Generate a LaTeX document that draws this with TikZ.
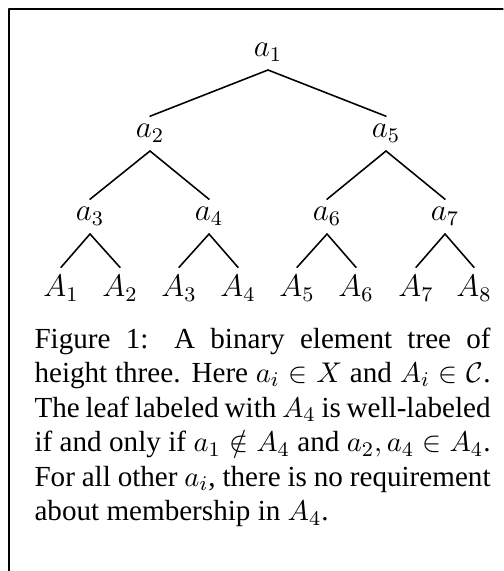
\documentclass[tikz,border=0pt]{standalone}
\usepackage[no-math]{fontspec}
\setmainfont{Liberation Serif}
\usepackage{amssymb,amsmath}

\begin{document}
\begin{tikzpicture}[line cap=round,line join=round,x=0.3846pt,y=-0.3846pt,
  elt/.style={font=\large,inner sep=3pt,anchor=base},
  edge/.style={line width=0.6pt}]
\useasboundingbox (0,0) rectangle (503,571);
\draw[line width=0.4pt] (9,571) -- (9,9) -- (503,9);
% elements
\node[elt] (a1) at (268,57) {$a_1$};
\node[elt] (a2) at (150,138) {$a_2$};
\node[elt] (a5) at (386,138) {$a_5$};
\node[elt] (a3) at (90,221) {$a_3$};
\node[elt] (a4) at (209,221) {$a_4$};
\node[elt] (a6) at (327,221) {$a_6$};
\node[elt] (a7) at (445,221) {$a_7$};
% leaves
\foreach \i/\x in {1/61,2/120,3/179,4/238,5/297,6/356,7/416,8/474}
\node[elt] (A\i) at (\x,297) {$A_{\i}$};
\foreach \p/\c in {a1/a2,a1/a5,a2/a3,a2/a4,a5/a6,a5/a7,a3/A1,a3/A2,a4/A3,a4/A4,a6/A5,a6/A6,a7/A7,a7/A8}
\draw[edge] (\p.south) -- (\c.north);
\node[anchor=north west,inner sep=0pt,text width=175.4pt,align=justify,font=\fontsize{11.2}{13.3}\selectfont] (cap) at (34,327)
{Figure 1: A binary element tree of\linebreak height three. Here $a_i \in X$ and $A_i \in \mathcal{C}$.\linebreak The leaf labeled with $A_4$ is well-labeled\linebreak if and only if $a_1 \notin A_4$ and $a_2, a_4 \in A_4$.\linebreak For all other $a_i$, there is no requirement\linebreak about membership in $A_4$.};
\end{tikzpicture}
\end{document}
